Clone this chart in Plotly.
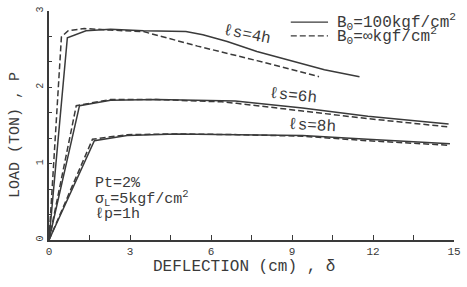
import plotly.graph_objects as go

# ---- data ----
x4_solid = [0, 0.68, 1.37, 2.28, 3.5, 5.07, 5.7, 6.6, 7.7, 9.0, 10.2, 11.5]
y4_solid = [0, 2.65, 2.74, 2.76, 2.74, 2.73, 2.69, 2.60, 2.47, 2.35, 2.23, 2.14]
x4_dash = [0, 0.46, 0.70, 1.31, 2.28, 3.5, 5.5, 7.7, 10.0]
y4_dash = [0, 2.66, 2.74, 2.77, 2.75, 2.73, 2.54, 2.35, 2.14]

x6_solid = [0, 1.13, 2.28, 3.98, 6.9, 9.39, 11.81, 14.8]
y6_solid = [0, 1.76, 1.83, 1.84, 1.82, 1.73, 1.62, 1.52]
x6_dash = [0, 1.01, 2.28, 3.98, 6.4, 6.96, 9.39, 11.8, 14.85]
y6_dash = [0, 1.76, 1.84, 1.84, 1.81, 1.79, 1.69, 1.59, 1.48]

x8_solid = [0, 1.68, 2.89, 4.71, 7.0, 9.39, 11.8, 14.85]
y8_solid = [0, 1.30, 1.37, 1.39, 1.38, 1.37, 1.32, 1.26]
x8_dash = [0, 1.61, 2.89, 4.71, 7.0, 9.39, 11.8, 14.85]
y8_dash = [0, 1.32, 1.38, 1.39, 1.38, 1.36, 1.30, 1.24]

x_ticks = [0, 3, 6, 9, 12, 15]
y_ticks = [0, 1, 2, 3]

curve_labels = ["ℓs=4h", "ℓs=6h", "ℓs=8h"]
label_x = [7.35, 9.03, 9.75]
label_y = [2.69, 1.89, 1.50]
label_angle = [11, 6, 3]

legend_texts = ["B<sub>0</sub>=100kgf/cm<sup>2</sup>", "B<sub>0</sub>=∞kgf/cm<sup>2</sup>"]
info_texts = ["Pt=2%", "σ<sub>L</sub>=5kgf/cm<sup>2</sup>", "ℓp=1h"]

FONT = "Liberation Mono, Courier New, monospace"
INK = "#3a3a3a"
DASH = "6px,3px"

fig = go.Figure()
solid_sets = [(x4_solid, y4_solid), (x6_solid, y6_solid), (x8_solid, y8_solid)]
dash_sets = [(x4_dash, y4_dash), (x6_dash, y6_dash), (x8_dash, y8_dash)]
for xs, ys in solid_sets:
    fig.add_trace(go.Scatter(x=xs, y=ys, mode="lines", showlegend=False,
                             line=dict(color=INK, width=1.5)))
for xs, ys in dash_sets:
    fig.add_trace(go.Scatter(x=xs, y=ys, mode="lines", showlegend=False,
                             line=dict(color=INK, width=1.5, dash=DASH)))

for t, lx, ly, a in zip(curve_labels, label_x, label_y, label_angle):
    fig.add_annotation(x=lx, y=ly, text=t, showarrow=False, textangle=a,
                       font=dict(family=FONT, size=16, color=INK))

# info block
info_y = [0.737, 0.538, 0.333]
for t, iy in zip(info_texts, info_y):
    fig.add_annotation(x=1.62, y=iy, text=t, showarrow=False, xanchor="left",
                       font=dict(family=FONT, size=15, color=INK))

# legend (manual)
leg_rows = [0.951, 0.891]
leg_dash = ["solid", DASH]
for t, ry, d in zip(legend_texts, leg_rows, leg_dash):
    fig.add_shape(type="line", xref="paper", yref="paper", x0=0.597, x1=0.689,
                  y0=ry, y1=ry, line=dict(color=INK, width=1.3, dash=d))
    fig.add_annotation(xref="paper", yref="paper", x=0.706, y=ry, text=t,
                       showarrow=False, xanchor="left", yanchor="middle",
                       font=dict(family=FONT, size=16, color=INK))

# axis titles
fig.add_annotation(xref="paper", yref="paper", x=-0.0825, y=0.457,
                   xanchor="center", yanchor="middle",
                   text="LOAD (TON) , P", textangle=-90, showarrow=False,
                   font=dict(family=FONT, size=15, color=INK))
fig.add_annotation(xref="paper", yref="paper", x=0.481, y=-0.12,
                   xanchor="center", yanchor="middle",
                   text="DEFLECTION (cm) , δ", showarrow=False,
                   font=dict(family=FONT, size=16, color=INK))

fig.update_xaxes(range=[0, 15], tickvals=x_ticks, ticktext=[str(v) for v in x_ticks],
                 ticks="inside", ticklen=5, tickcolor=INK, tickwidth=1,
                 ticklabeloverflow="allow",
                 minor=dict(dtick=1.5, tick0=0, ticks="inside", ticklen=5, tickcolor=INK),
                 showline=True, linecolor=INK, linewidth=1.5, showgrid=False,
                 zeroline=False, tickfont=dict(family=FONT, size=11, color=INK))
fig.update_yaxes(range=[0, 3], tickvals=y_ticks, ticktext=[str(v) for v in y_ticks],
                 ticks="inside", ticklen=3, tickcolor=INK, tickwidth=1, tickangle=-90,
                 ticklabeloverflow="allow",
                 minor=dict(dtick=1/3, tick0=0, ticks="inside", ticklen=3, tickcolor=INK),
                 showline=True, linecolor=INK, linewidth=2.2, showgrid=False,
                 zeroline=False, tickfont=dict(family=FONT, size=10, color=INK))

fig.update_layout(width=467, height=287, margin=dict(l=49, r=6, t=6, b=47),
                  paper_bgcolor="white", plot_bgcolor="white", showlegend=False)

fig.write_html("out.html", config={"displayModeBar": False},
               post_script="document.body.style.margin='0';document.body.style.overflow='hidden';")
